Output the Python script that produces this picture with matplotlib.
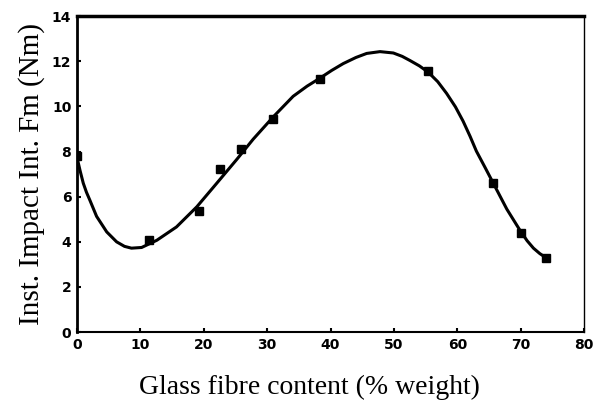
import matplotlib
matplotlib.use('Agg')
import matplotlib.pyplot as plt

# measured points
glass = [0, 11.4, 19.2, 22.6, 25.9, 30.9, 38.3, 55.3, 65.6, 70.1, 74.0]
impact = [7.8, 4.07, 5.35, 7.25, 8.1, 9.45, 11.2, 11.55, 6.6, 4.4, 3.3]

# fitted curve
curve_x = [0, 0.5, 1.0, 1.5, 2.05, 3.1, 4.7, 6.26, 7.5, 8.6, 10.2, 12.6, 15.7,
           18.9, 22.0, 25.2, 27.8, 31.0, 34.1, 36.3, 38.3, 40.2, 42.0, 44.0,
           45.7, 47.8, 49.9, 51.3, 52.5, 54.0, 55.4, 56.9, 58.3, 59.7, 60.9,
           62.0, 63.0, 64.4, 65.7, 67.8, 69.9, 71.0, 72.0, 73.0, 73.8]
curve_y = [7.76, 7.15, 6.6, 6.2, 5.84, 5.13, 4.44, 4.0, 3.8, 3.72, 3.75, 4.07,
           4.66, 5.55, 6.58, 7.65, 8.55, 9.55, 10.45, 10.9, 11.25, 11.6, 11.9,
           12.17, 12.35, 12.43, 12.37, 12.22, 12.04, 11.8, 11.52, 11.1, 10.58,
           9.98, 9.35, 8.68, 8.02, 7.28, 6.58, 5.45, 4.5, 4.05, 3.72, 3.48, 3.33]

fig = plt.figure(figsize=(6.01, 4.05), dpi=100)
ax = fig.add_axes([0.128, 0.180, 0.844, 0.780])

ax.plot(curve_x, curve_y, color='black', linewidth=2.2)
ax.plot(glass, impact, 's', color='black', markersize=5.5)

ax.set_xlim(0, 80)
ax.set_ylim(0, 14)
ax.set_xticks(range(0, 81, 10))
ax.set_yticks(range(0, 15, 2))
ax.tick_params(direction='in', length=3, width=1.5, labelsize=10, pad=4)
for lab in ax.get_xticklabels() + ax.get_yticklabels():
    lab.set_fontweight('bold')

ax.spines['top'].set_linewidth(2.5)
ax.spines['left'].set_linewidth(2)
ax.spines['bottom'].set_linewidth(1.5)
ax.spines['right'].set_linewidth(1)

ax.set_xlabel('Glass fibre content (% weight)', family='Liberation Serif', fontsize=20)
ax.xaxis.set_label_coords(0.458, -0.135)
ax.set_ylabel('Inst. Impact Int. Fm (Nm)', family='Liberation Serif', fontsize=21, labelpad=5)

fig.savefig('out.png', dpi=100)
